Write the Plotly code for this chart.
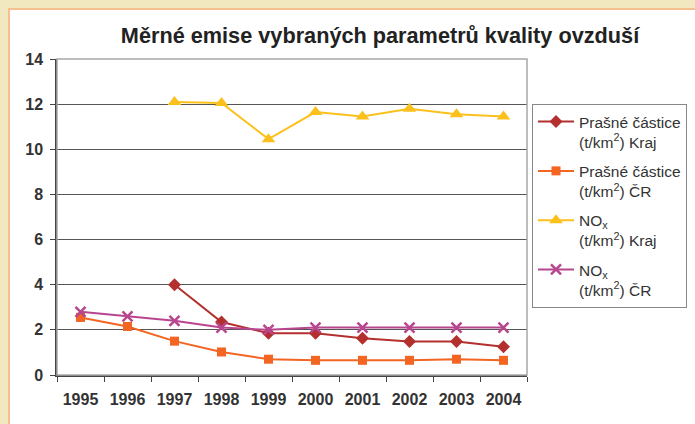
import plotly.graph_objects as go

years = ["1995", "1996", "1997", "1998", "1999", "2000", "2001", "2002", "2003", "2004"]
prach_kraj = [None, None, 4.0, 2.35, 1.85, 1.85, 1.63, 1.48, 1.48, 1.25]
prach_cr = [2.55, 2.15, 1.5, 1.02, 0.7, 0.65, 0.65, 0.65, 0.7, 0.65]
nox_kraj = [None, None, 12.1, 12.05, 10.45, 11.65, 11.45, 11.8, 11.55, 11.45]
nox_cr = [2.8, 2.6, 2.4, 2.1, 2.0, 2.1, 2.1, 2.1, 2.1, 2.1]

names = [
    "Prašné částice<br>(t/km<sup>2</sup>) Kraj",
    "Prašné částice<br>(t/km<sup>2</sup>) ČR",
    "NO<sub>x</sub><br>(t/km<sup>2</sup>) Kraj",
    "NO<sub>x</sub><br>(t/km<sup>2</sup>) ČR",
]

FONT = "Liberation Sans, Arial, sans-serif"
fig = go.Figure()
fig.add_trace(go.Scatter(x=years, y=prach_kraj, name=names[0], mode="lines+markers",
                         line=dict(color="#b3302e", width=2),
                         marker=dict(symbol="diamond", size=10, color="#b3302e"),
                         legendgroup="a"))
fig.add_trace(go.Scatter(x=years, y=prach_cr, name=names[1], mode="lines+markers",
                         line=dict(color="#f26522", width=2),
                         marker=dict(symbol="square", size=9, color="#f26522"),
                         legendgroup="b"))
fig.add_trace(go.Scatter(x=years, y=nox_kraj, name=names[2], mode="lines+markers",
                         line=dict(color="#fcc01c", width=2),
                         marker=dict(symbol="triangle-up", size=12, color="#fcc01c"),
                         legendgroup="c"))
fig.add_trace(go.Scatter(x=years, y=nox_cr, name=names[3], mode="lines+markers",
                         line=dict(color="#b8468f", width=2),
                         marker=dict(symbol="x-thin", size=10, color="#b8468f",
                                     line=dict(color="#b8468f", width=2.5)),
                         legendgroup="d"))

L, R, T, B = 57, 168, 59, 49
W, H = 695, 424
pw, ph = W - L - R, H - T - B

def px(x):
    return (x - L) / pw

def py(y):
    return (H - B - y) / ph

fig.update_layout(
    width=W, height=H,
    margin=dict(l=L, r=R, t=T, b=B, pad=0, autoexpand=False),
    paper_bgcolor="#f2e8c0",
    plot_bgcolor="#d0d0d0",
    font=dict(family=FONT, color="#333333"),
    title=dict(text="<b>Měrné emise vybraných parametrů kvality ovzduší</b>",
               font=dict(size=21.7, color="#222222", family=FONT),
               x=px(380), xanchor="center", xref="paper",
               y=1 - 35 / H, yanchor="middle", yref="container"),
    showlegend=True,
    legend=dict(x=px(532), xanchor="left", y=py(104), yanchor="top",
                bgcolor="#ffffff", bordercolor="#888888", borderwidth=1,
                font=dict(size=15.5, color="#333333", family=FONT),
                tracegroupgap=6, itemwidth=36, valign="top"),
    shapes=[
        dict(type="rect", xref="paper", yref="paper", x0=px(9), x1=px(740), y0=py(470), y1=py(9),
             fillcolor="#ffffff", line=dict(color="#f5c090", width=2), layer="below"),
        dict(type="rect", xref="paper", yref="paper", x0=0, x1=1, y0=0, y1=1,
             line=dict(color="#a8a8a8", width=1.5), layer="above"),
    ],
)
fig.update_xaxes(type="category", range=[-0.5, 9.5], tickson="boundaries",
                 ticks="outside", ticklen=5, tickcolor="#444444",
                 showline=True, linecolor="#444444", linewidth=1.5,
                 showgrid=False, zeroline=False,
                 tickfont=dict(size=16, color="#333333", family=FONT, weight="bold"),
                 ticklabelstandoff=9)
fig.update_yaxes(range=[0, 14], dtick=2, ticks="outside", ticklen=5, tickcolor="#444444",
                 showline=True, linecolor="#444444", linewidth=1.5,
                 showgrid=True, gridcolor="#555555", gridwidth=1, zeroline=False,
                 tickfont=dict(size=16, color="#333333", family=FONT, weight="bold"),
                 ticklabelstandoff=4)
fig.write_html("out.html", config={"displayModeBar": False},
               post_script="document.body.style.margin='0';")
